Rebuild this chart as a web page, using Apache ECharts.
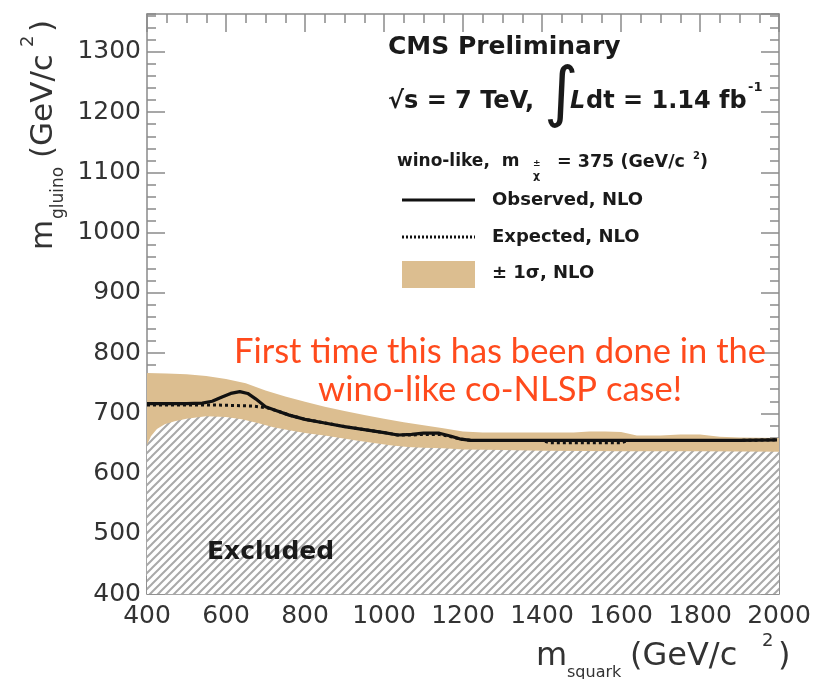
<!DOCTYPE html>
<html>
<head>
<meta charset="utf-8">
<script src="https://cdn.jsdelivr.net/npm/echarts@6/dist/echarts.min.js"></script>
<style>
  html, body { margin: 0; padding: 0; background: #ffffff; }
  #chart { width: 824px; height: 679px; }
</style>
</head>
<body>
<div id="chart"></div>
<script>
// Exclusion limit in the squark-gluino mass plane (wino-like, m_chi = 375 GeV/c^2)

// Observed limit contour (NLO)
const observedSquark = [400, 450, 500, 540, 565, 590, 612, 635, 655, 675, 700, 730, 760, 800, 850, 900, 950, 1000, 1035, 1070, 1100, 1140, 1170, 1195, 1220, 1300, 1400, 1500, 1600, 1700, 1800, 1900, 1995];
const observedGluino = [716, 716, 716, 717, 720, 727, 733, 736, 733, 724, 711, 704, 697, 690, 684, 678, 673, 668, 664, 665, 667, 667, 662, 657, 655, 655, 655, 655, 655, 655, 655, 655, 656];

// Expected limit contour (NLO)
const expectedSquark = [400, 500, 560, 620, 670, 705, 730, 760, 800, 850, 900, 950, 1000, 1035, 1070, 1100, 1140, 1170, 1195, 1220, 1300, 1400, 1420, 1500, 1600, 1620, 1700, 1800, 1900, 1995];
const expectedGluino = [714, 714, 714, 713, 712, 709, 704, 697, 690, 684, 678, 673, 668, 664, 664, 665, 665, 661, 657, 655, 655, 655, 651, 651, 651, 655, 655, 655, 655, 656];

// +/- 1 sigma band edges
const bandUpperSquark = [400, 450, 500, 550, 600, 650, 700, 750, 800, 850, 900, 950, 1000, 1050, 1100, 1150, 1200, 1250, 1300, 1400, 1480, 1520, 1560, 1600, 1640, 1700, 1750, 1800, 1850, 1900, 2000];
const bandUpperGluino = [767, 766, 765, 762, 757, 750, 738, 728, 719, 711, 704, 697, 691, 685, 680, 675, 670, 668, 668, 668, 668, 670, 670, 669, 663, 663, 665, 665, 661, 660, 659];
const bandLowerSquark = [400, 410, 425, 445, 470, 500, 550, 600, 640, 680, 720, 760, 805, 850, 890, 930, 970, 1015, 1060, 1100, 1150, 1200, 1300, 1400, 1600, 1800, 2000];
const bandLowerGluino = [648, 662, 674, 682, 687, 691, 695, 694, 690, 684, 677, 672, 667, 663, 659, 655, 651, 647, 644, 643, 642, 640, 639, 638, 637, 637, 636];

// Axis ranges and ticks
const squarkRange = [400, 2000];
const gluinoRange = [400, 1363];
const squarkStep = 200;
const gluinoStep = 100;
const gluinoMinorStep = 20;

const seriesNames = ['Observed, NLO', 'Expected, NLO', '\u00b1 1\u03c3, NLO'];

const zip = (xs, ys) => xs.map((x, i) => [x, ys[i]]);

// diagonal hatch used for the excluded region
function makeHatch() {
  const c = document.createElement('canvas');
  c.width = 8; c.height = 8;
  const g = c.getContext('2d');
  g.fillStyle = '#ffffff';
  g.fillRect(0, 0, 8, 8);
  g.strokeStyle = '#a9a9a9';
  g.lineWidth = 2;
  g.beginPath();
  g.moveTo(-2, 10); g.lineTo(10, -2);
  g.moveTo(-2, 2); g.lineTo(2, -2);
  g.moveTo(6, 10); g.lineTo(10, 6);
  g.stroke();
  return c;
}

const FRAME = '#8a8a8a';
const LABEL = '#333333';
const SANS = 'DejaVu Sans';
const BAND = '#dcbe90';
const INK = '#111111';

function xAxisDef(pos, labels) {
  return {
    type: 'value', position: pos, min: squarkRange[0], max: squarkRange[1], interval: squarkStep,
    axisLine: { show: true, onZero: false, lineStyle: { color: FRAME, width: 1.5 } },
    axisTick: { show: true, inside: true, length: 18, lineStyle: { color: FRAME, width: 1.5 } },
    minorTick: { show: true, splitNumber: 4, length: 9, lineStyle: { color: FRAME, width: 1.5 } },
    axisLabel: { show: labels, color: LABEL, fontSize: 25, fontFamily: SANS, margin: 10, formatter: v => String(v) },
    splitLine: { show: false }, minorSplitLine: { show: false }
  };
}
function yAxisDef(pos, labels) {
  return {
    type: 'value', position: pos, min: gluinoRange[0], max: gluinoRange[1], interval: gluinoStep,
    axisLine: { show: true, onZero: false, lineStyle: { color: FRAME, width: 1.5 } },
    axisTick: { show: true, inside: true, length: 18, lineStyle: { color: FRAME, width: 1.5 } },
    axisLabel: { show: labels, color: LABEL, fontSize: 25, fontFamily: SANS, margin: 6, showMaxLabel: false, formatter: v => String(v) },
    splitLine: { show: false }
  };
}
function yMinorDef(pos) {
  return {
    type: 'value', position: pos, min: gluinoRange[0], max: gluinoRange[1], interval: gluinoMinorStep,
    axisLine: { show: false },
    axisTick: { show: true, inside: true, length: 9, lineStyle: { color: FRAME, width: 1.5 } },
    axisLabel: { show: false },
    splitLine: { show: false }
  };
}

function txt(x, y, text, size, opts) {
  opts = opts || {};
  return {
    type: 'text', x: x, y: y, z: 100,
    style: {
      text: text,
      fontSize: size,
      fontFamily: opts.family || SANS,
      fontWeight: opts.weight || 'normal',
      fontStyle: opts.style || 'normal',
      fill: opts.fill || '#1a1a1a',
      align: opts.align || 'left',
      verticalAlign: 'middle'
    }
  };
}

const chart = echarts.init(document.getElementById('chart'));

const option = {
  animation: false,
  backgroundColor: '#ffffff',
  grid: { left: 147, right: 45, top: 14, bottom: 85, containLabel: false, outerBoundsMode: 'none' },
  xAxis: [xAxisDef('bottom', true), xAxisDef('top', false)],
  yAxis: [yAxisDef('left', true), yAxisDef('right', false), yMinorDef('left'), yMinorDef('right')],
  series: [
    {
      name: seriesNames[2], type: 'line', data: zip(bandUpperSquark, bandUpperGluino),
      symbol: 'none', color: BAND, lineStyle: { width: 0 },
      areaStyle: { color: BAND, opacity: 1, origin: 'start' }, z: 1, silent: true
    },
    {
      name: 'Excluded', type: 'line', data: zip(bandLowerSquark, bandLowerGluino),
      symbol: 'none', lineStyle: { width: 0 },
      areaStyle: { color: { image: makeHatch(), repeat: 'repeat' }, opacity: 1, origin: 'start' }, z: 2, silent: true
    },
    {
      name: seriesNames[1], type: 'line', data: zip(expectedSquark, expectedGluino),
      symbol: 'none', color: INK, lineStyle: { color: INK, width: 3, type: 'dotted' }, z: 3
    },
    {
      name: seriesNames[0], type: 'line', data: zip(observedSquark, observedGluino),
      symbol: 'none', color: INK, lineStyle: { color: INK, width: 3.2 }, z: 4
    }
  ],
  graphic: [
    // header
    txt(388, 47, 'CMS Preliminary', 25, { weight: 'bold' }),
    txt(388, 102, '\u221as = 7 TeV,', 24, { weight: 'bold' }),
    txt(544, 97, '\u222b', 66),
    txt(570, 102, 'L', 24, { weight: 'bold', style: 'italic' }),
    txt(586, 102, 'dt = 1.14 fb', 24, { weight: 'bold' }),
    txt(748, 88, '-1', 13, { weight: 'bold' }),
    // model line
    txt(397, 162, 'wino-like,  m', 17, { weight: 'bold' }),
    txt(533, 176, '\u03c7', 11, { weight: 'bold' }),
    txt(533, 164, '\u00b1', 9, { weight: 'bold' }),
    txt(557, 162, '= 375 (GeV/c', 17.5, { weight: 'bold' }),
    txt(693, 156, '2', 10, { weight: 'bold' }),
    txt(700, 162, ')', 17.5, { weight: 'bold' }),
    // legend
    { type: 'line', z: 100, shape: { x1: 402, y1: 200, x2: 475, y2: 200 }, style: { stroke: INK, lineWidth: 3 } },
    txt(492, 200, seriesNames[0], 18, { weight: 'bold' }),
    { type: 'line', z: 100, shape: { x1: 402, y1: 237, x2: 475, y2: 237 }, style: { stroke: INK, lineWidth: 3, lineDash: [2, 2] } },
    txt(492, 237, seriesNames[1], 18, { weight: 'bold' }),
    { type: 'rect', z: 100, shape: { x: 402, y: 261, width: 73, height: 27 }, style: { fill: BAND } },
    txt(492, 273, seriesNames[2], 18, { weight: 'bold' }),
    // excluded label
    txt(207, 552, 'Excluded', 25, { weight: 'bold' }),
    // annotation
    txt(500, 352, 'First time this has been done in the', 34.5, { family: 'Lato', fill: '#ff4a1c', align: 'center' }),
    txt(500, 390, 'wino-like co-NLSP case!', 34.5, { family: 'Lato', fill: '#ff4a1c', align: 'center' }),
    // x-axis title
    txt(536, 657, 'm', 32, { fill: LABEL }),
    txt(567, 673, 'squark', 16, { fill: LABEL }),
    txt(630, 657, '(GeV/c', 32, { fill: LABEL }),
    txt(762, 641, '2', 18, { fill: LABEL }),
    txt(778, 657, ')', 32, { fill: LABEL }),
    // y-axis title, rotated to read upwards
    {
      type: 'group', x: 44, y: 250, rotation: Math.PI / 2, z: 100,
      children: [
        txt(0, 0, 'm', 31, { fill: LABEL }),
        txt(31, 15, 'gluino', 17, { fill: LABEL }),
        txt(92, 0, '(GeV/c', 31, { fill: LABEL }),
        txt(203, -16, '2', 18, { fill: LABEL }),
        txt(218, 0, ')', 31, { fill: LABEL })
      ]
    }
  ]
};

chart.setOption(option);
</script>
</body>
</html>
